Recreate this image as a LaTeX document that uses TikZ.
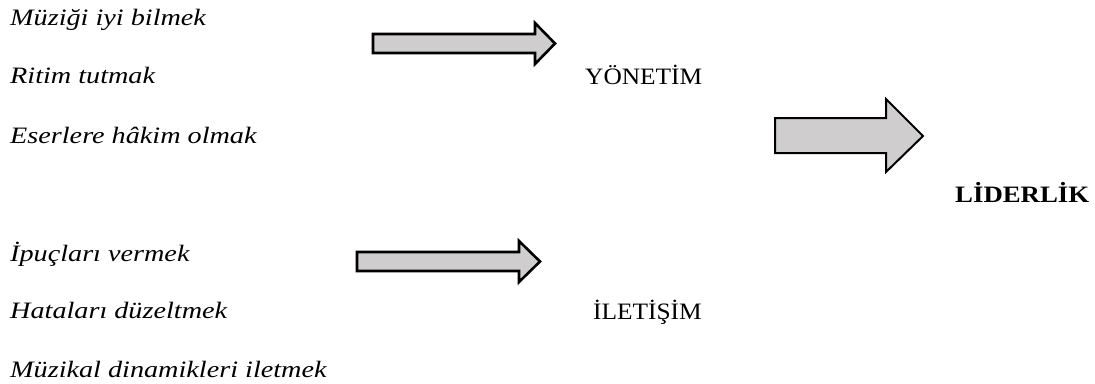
\documentclass[tikz,border=0pt]{standalone}
\usepackage{fontspec}
\newfontfamily\itemfont[FakeStretch=1.2]{Liberation Serif Italic}
\newfontfamily\labelfont[FakeStretch=1.08]{Liberation Serif}
\newfontfamily\leadfont[FakeStretch=1.14]{Liberation Serif Bold}
\definecolor{arrowfill}{HTML}{CFCDCD}
\tikzset{
  item/.style={anchor=base west,inner sep=0pt,font=\fontsize{23.5}{26}\itemfont},
  label/.style={anchor=base west,inner sep=0pt,font=\fontsize{23.5}{26}\labelfont},
  lead/.style={anchor=base west,inner sep=0pt,font=\fontsize{23.5}{26}\leadfont},
  blockarrow/.style={draw=black,fill=arrowfill,line width=2.6pt,line join=miter},
  bigarrow/.style={blockarrow,line width=2pt}
}
\begin{document}
\begin{tikzpicture}[x=1pt,y=-1pt]
\useasboundingbox (0,0) rectangle (1095,383);
\node[item] (a1) at (10,25) {Müziği iyi bilmek};
\node[item] (a2) at (10,83) {Ritim tutmak};
\node[item] (a3) at (10,143) {Eserlere hâkim olmak};
\node[item] (b1) at (10,261.5) {İpuçları vermek};
\node[item] (b2) at (10,318.5) {Hataları düzeltmek};
\node[item] (b3) at (10,377) {Müzikal dinamikleri iletmek};
\node[label] (yon) at (585,84) {YÖNETİM};
\node[label] (ilt) at (593,319) {İLETİŞİM};
\node[lead] (lid) at (955,202) {LİDERLİK};
\draw[blockarrow] (373,34) -- (535,34) -- (535,23) -- (555,43.5) -- (535,64) -- (535,53) -- (373,53) -- cycle;
\draw[bigarrow] (775,118) -- (886,118) -- (886,99) -- (923,136) -- (886,172) -- (886,153) -- (775,153) -- cycle;
\draw[blockarrow] (357,252) -- (519,252) -- (519,241) -- (540,261.5) -- (519,282) -- (519,271) -- (357,271) -- cycle;
\end{tikzpicture}
\end{document}
